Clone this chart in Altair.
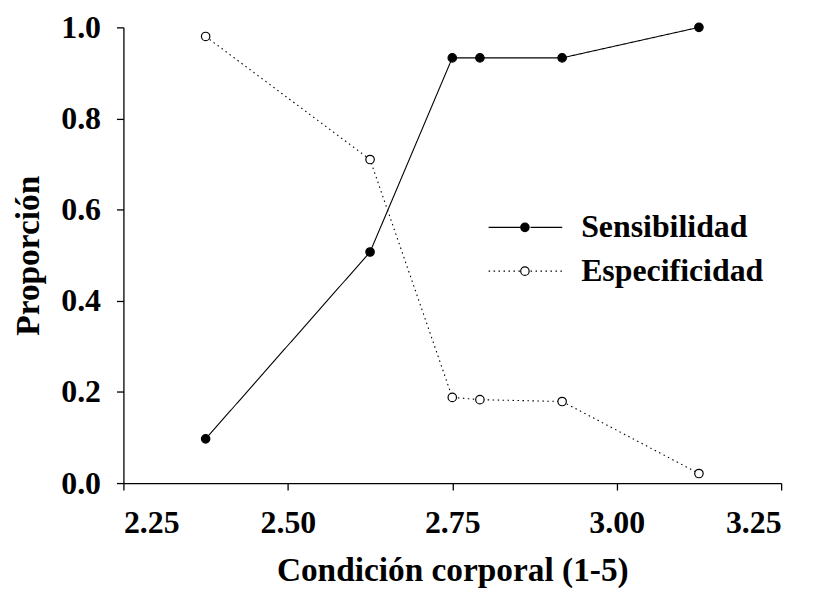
import altair as alt
import pandas as pd

# ---- data ----
x_vals = [2.375, 2.625, 2.75, 2.792, 2.917, 3.125]
sensibilidad = [0.097, 0.507, 0.933, 0.933, 0.933, 1.0]
especificidad = [0.98, 0.71, 0.188, 0.183, 0.179, 0.021]
series = ["Sensibilidad", "Especificidad"]
x_ticks = [2.25, 2.50, 2.75, 3.00, 3.25]
y_ticks = [0.0, 0.2, 0.4, 0.6, 0.8, 1.0]

rows = []
for s, vals in zip(series, [sensibilidad, especificidad]):
    for xv, yv in zip(x_vals, vals):
        rows.append({"cond": xv, "prop": yv, "serie": s, "serie_pt": s})
df = pd.DataFrame(rows)

FONT = "Liberation Serif"
FS = 32
TFS = 33.5

x_enc = alt.X(
    "cond:Q",
    scale=alt.Scale(domain=[2.25, 3.25], nice=False, zero=False),
    axis=alt.Axis(values=x_ticks, format=".2f", title="Condición corporal (1-5)",
                  labelPadding=18, titlePadding=16),
)
y_enc = alt.Y(
    "prop:Q",
    scale=alt.Scale(domain=[0, 1], nice=False),
    axis=alt.Axis(values=y_ticks, format=".1f", title="Proporción",
                  labelPadding=16, titlePadding=15),
)

common_legend = dict(
    title=None, orient="none", legendX=366, legendY=185, padding=0,
    labelFont=FONT, labelFontSize=FS, labelFontWeight="bold", labelColor="black",
    labelLimit=400, clipHeight=32, rowPadding=12,
)

line = alt.Chart().mark_line(color="black", strokeWidth=1.1).encode(
    x=x_enc,
    y=y_enc,
    strokeDash=alt.StrokeDash(
        "serie:N",
        scale=alt.Scale(domain=series, range=[[1, 0], [1.5, 3.5]]),
        legend=alt.Legend(
            symbolType="M-1,0L-0.14,0M0.14,0L1,0",
            symbolSize=5476, symbolStrokeWidth=1.1, symbolStrokeColor="black",
            symbolOffset=0, labelOffset=18, **common_legend,
        ),
    ),
)

points = alt.Chart().mark_point(
    filled=True, stroke="black", strokeWidth=1.2, size=72, opacity=1, shape="circle"
).encode(
    x=x_enc,
    y=y_enc,
    fill=alt.Fill(
        "serie_pt:N",
        sort=series,
        scale=alt.Scale(range=["black", "white"]),
        legend=alt.Legend(
            symbolType="circle", symbolSize=72, symbolStrokeColor="black",
            symbolStrokeWidth=1.2, symbolOpacity=1, symbolOffset=21.5,
            labelExpr="''", **common_legend,
        ),
    ),
)

chart = alt.layer(line, points, data=df).properties(
    width=661, height=458,
    autosize=alt.AutoSizeParams(type="none"),
    padding={"left": 116, "top": 18, "right": 28, "bottom": 104},
).configure_view(strokeWidth=0).configure_axis(
    labelFont=FONT, labelFontSize=FS, labelFontWeight="bold", labelColor="black",
    titleFont=FONT, titleFontSize=TFS, titleFontWeight="bold", titleColor="black",
    domainColor="black", domainWidth=1.3, tickColor="black", tickWidth=1.3,
    tickSize=7, grid=False,
)

chart.save("out.html", embed_options={"renderer": "svg", "actions": False})
